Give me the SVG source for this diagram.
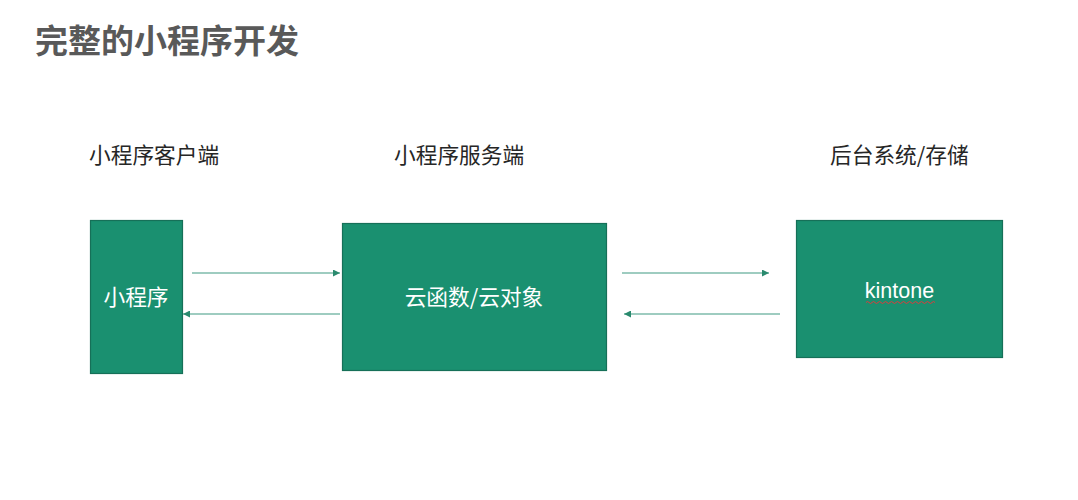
<svg xmlns="http://www.w3.org/2000/svg" width="1078" height="500" viewBox="0 0 1078 500">
<defs>
<style>
.title{font-family:"Noto Sans CJK SC","Liberation Sans",sans-serif;font-weight:bold;font-size:33px;fill:#595959}
.lbl{font-family:"Noto Sans CJK SC","Liberation Sans",sans-serif;font-size:21.7px;fill:#262626}
.box{fill:#1a9070;stroke:#167058;stroke-width:1.2}
.bt{font-family:"Noto Sans CJK SC","Liberation Sans",sans-serif;font-size:21.7px;fill:#ffffff;text-anchor:middle}
.bt-latin{font-family:"Liberation Sans",Arial,sans-serif;font-size:21.5px;fill:#ffffff;text-anchor:middle}
.con{stroke:#3f9a82;stroke-width:1.2;fill:none;marker-end:url(#ah)}
</style>
<marker id="ah" viewBox="0 0 10 10" refX="10" refY="5" markerWidth="8" markerHeight="7" markerUnits="userSpaceOnUse" orient="auto">
<path d="M0,0 L10,5 L0,10 z" fill="#2a8a6e"/>
</marker>
</defs>
<rect width="1078" height="500" fill="#ffffff"/>
<text class="title" x="35" y="53">完整的小程序开发</text>
<text class="lbl" x="89" y="163">小程序客户端</text>
<text class="lbl" x="394" y="163">小程序服务端</text>
<text class="lbl" x="830" y="163">后台系统/存储</text>
<g id="node-client">
<rect class="box" x="90.5" y="220.5" width="92" height="153"/>
<text class="bt" x="136" y="305">小程序</text>
</g>
<g id="node-server">
<rect class="box" x="342.5" y="223.5" width="264" height="147"/>
<text class="bt" x="474" y="305">云函数/云对象</text>
</g>
<g id="node-kintone">
<rect class="box" x="796.5" y="220.5" width="206" height="137"/>
<text class="bt-latin" x="899.5" y="298">kintone</text>
<path d="M866,302.5 q1.5,-2 3,0 t3,0 t3,0 t3,0 t3,0 t3,0 t3,0 t3,0 t3,0 t3,0 t3,0 t3,0 t3,0 t3,0 t3,0 t3,0 t3,0 t3,0 t3,0 t3,0 t3,0 t3,0 t3,0" fill="none" stroke="#e03a3a" stroke-width="1"/>
</g>
<g id="connectors">
<line class="con" x1="192" y1="273" x2="340" y2="273"/>
<line class="con" x1="340" y1="314" x2="183" y2="314"/>
<line class="con" x1="622" y1="273" x2="769" y2="273"/>
<line class="con" x1="780" y1="314" x2="624" y2="314"/>
</g>
</svg>
